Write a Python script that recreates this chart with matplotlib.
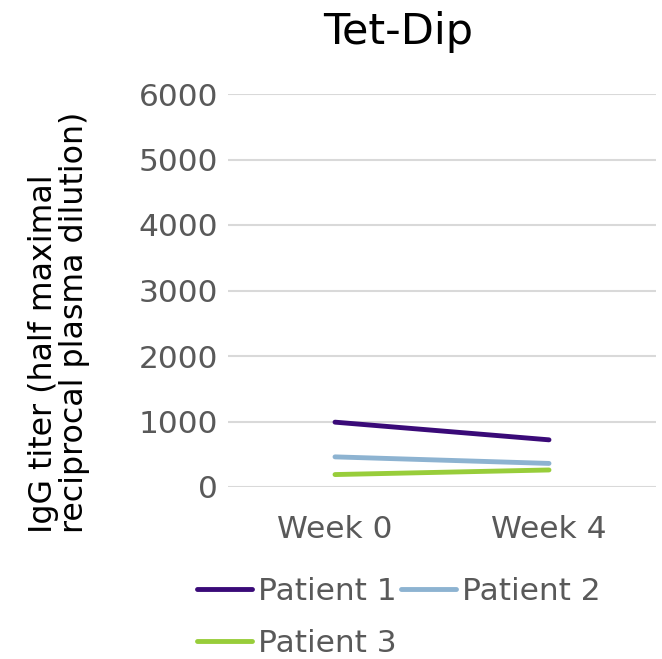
import matplotlib as mpl
mpl.use('Agg')
import matplotlib.pyplot as plt

categories = ['Week 0', 'Week 4']
patient_1 = [990, 720]
patient_2 = [460, 360]
patient_3 = [190, 260]
series_names = ['Patient 1', 'Patient 2', 'Patient 3']
y_ticks = [0, 1000, 2000, 3000, 4000, 5000, 6000]

colors = ['#3A0A78', '#8DB3D1', '#98CD3A']
grey = '#595959'

plt.rcParams['font.family'] = ['DejaVu Sans']

fig = plt.figure(figsize=(6.62, 6.59), dpi=100)
ax = fig.add_axes([228 / 662, 1 - 487 / 659, 428 / 662, 393 / 659])

x = [0, 1]
lines = []
for vals, c, name in zip([patient_1, patient_2, patient_3], colors, series_names):
    ln, = ax.plot(x, vals, color=c, lw=3.5, solid_capstyle='round', label=name, zorder=3)
    lines.append(ln)

ax.set_xlim(-0.5, 1.5)
ax.set_ylim(0, 6000)
ax.set_yticks(y_ticks)
ax.set_yticklabels([str(v) for v in y_ticks])
ax.set_xticks(x)
ax.set_xticklabels(categories)
ax.tick_params(axis='both', length=0, labelsize=22.5, labelcolor=grey)
ax.tick_params(axis='y', pad=7)
ax.tick_params(axis='x', pad=20)
ax.grid(axis='y', color='#D9D9D9', lw=1.5)
ax.set_axisbelow(True)
for s in ax.spines.values():
    s.set_visible(False)

fig.text(398 / 662, 1 - 32 / 659, 'Tet-Dip', fontsize=31, ha='center', va='center', color='black')

fig.text(59 / 662, 1 - 533 / 659, 'IgG titer (half maximal\nreciprocal plasma dilution)',
         rotation=90, fontsize=22.8, ha='left', va='center', multialignment='left',
         linespacing=0.98, color='black', rotation_mode='anchor')

# row-major order like the original legend
order = [0, 2, 1]
fig.legend([lines[i] for i in order], [series_names[i] for i in order],
           ncol=2, loc='upper left', bbox_to_anchor=(197 / 662, 1 - 577 / 659),
           frameon=False, fontsize=22.5, labelcolor=grey, handlelength=1.75,
           handletextpad=0.2, columnspacing=0.15, labelspacing=0.72, borderpad=0,
           borderaxespad=0)

plt.savefig('out.png', dpi=100)
